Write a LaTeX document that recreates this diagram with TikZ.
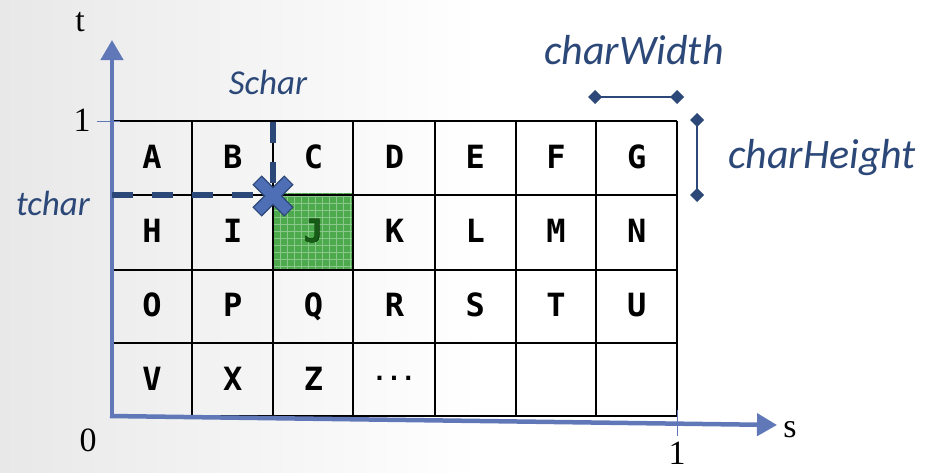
\documentclass[tikz,border=0pt]{standalone}
\usepackage{fontspec}
\setmainfont{Liberation Serif}
\newfontfamily\monof{DejaVu Sans Mono}
\newfontfamily\calfont{Carlito}
\usetikzlibrary{arrows.meta}
\definecolor{axisblue}{RGB}{96,120,184}
\definecolor{darkblue}{RGB}{44,72,120}
\definecolor{xblue}{RGB}{78,110,182}
\definecolor{cellgreen}{RGB}{76,170,76}
\definecolor{jgreen}{RGB}{22,92,22}
\begin{document}
\begin{tikzpicture}[x=1pt,y=-1pt,
 gridline/.style={line width=2.6pt, black},
 axisline/.style={line width=4.5pt, axisblue, -{Triangle[length=20pt,width=22pt]}},
 letter/.style={font=\monof\bfseries\fontsize{32}{32}\selectfont, anchor=base, inner sep=0pt},
 serifnum/.style={font=\fontsize{34}{34}\selectfont, inner sep=0pt},
 biglabel/.style={font=\calfont\itshape\fontsize{42}{42}\selectfont, text=darkblue, inner sep=0pt},
 smalllabel/.style={font=\calfont\itshape\fontsize{35}{35}\selectfont, text=darkblue, inner sep=0pt},
 dimline/.style={line width=2.6pt, darkblue, {Diamond[length=14pt,width=14pt]}-{Diamond[length=14pt,width=14pt]}},
 guide/.style={line width=5.5pt, darkblue, dash pattern=on 21pt off 19pt},
 tick/.style={line width=1pt, axisblue}
]
\useasboundingbox (0,0) rectangle (932,472);
\fill[white] (0,0) rectangle (932,472);
\shade[left color=black!9, right color=white] (0,0) rectangle (480,472);

% green cell J
\fill[cellgreen] (273,193) rectangle (353,270);
\begin{scope}
\clip (273,193) rectangle (353,270);
\draw[white, opacity=0.35, line width=0.8pt, step=7pt] (266,186) grid (360,277);
\end{scope}

% grid lines
\foreach \y in {121,195,270,343,416} \draw[gridline] (112,\y) -- (677,\y);
\foreach \x in {192,273,353,435,516,596,677} \draw[gridline] (\x,121) -- (\x,416);

% letters
\foreach \t [count=\i from 0] in {A,B,C,D,E,F,G} \node[letter] (r1c\i) at (152+80.8*\i,168.5) {\t};
\foreach \t [count=\i from 0] in {H,I,J,K,L,M,N} \node[letter] (r2c\i) at (152+80.8*\i,242) {\t};
\foreach \t [count=\i from 0] in {O,P,Q,R,S,T,U} \node[letter] (r3c\i) at (152+80.8*\i,316) {\t};
\foreach \t [count=\i from 0] in {V,X,Z} \node[letter] (r4c\i) at (152+80.8*\i,390) {\t};
\node[letter, font=\monof\bfseries\fontsize{24}{24}\selectfont] (dots) at (394,380) {...};
\node[letter, text=jgreen] at (313,242) {J};

% axes
\coordinate (origin) at (112,418);
\coordinate (ttip) at (112,40);
\coordinate (sorigin) at (110,416);
\coordinate (stip) at (777,425);
\draw[axisline] (origin) -- (ttip);
\draw[axisline] (sorigin) -- (stip);
\coordinate (t1a) at (97,121); \coordinate (t1b) at (120,121);
\draw[tick] (t1a) -- (t1b);
\coordinate (s1a) at (677,410); \coordinate (s1b) at (677,436);
\draw[tick] (s1a) -- (s1b);

% axis labels
\node[serifnum] (tlab) at (80,22) {t};
\node[serifnum] (one1) at (82,120) {1};
\node[serifnum] (zero) at (88,440) {0};
\node[serifnum] (one2) at (677,453) {1};
\node[serifnum] (slab) at (790,430) {s};

% guides
\coordinate (gh1) at (112,195); \coordinate (gh2) at (262,195);
\coordinate (gv1) at (273,122); \coordinate (gv2) at (273,188);
\draw[guide] (gh1) -- (gh2);
\draw[guide] (gv1) -- (gv2);

% X marker
\begin{scope}[shift={(273,196)}, rotate=45]
\filldraw[fill=xblue, draw=darkblue, line width=1.2pt]
 (6,22) -- (6,6) -- (22,6) -- (22,-6) -- (6,-6) -- (6,-22) -- (-6,-22) -- (-6,-6) -- (-22,-6) -- (-22,6) -- (-6,6) -- (-6,22) -- cycle;
\end{scope}

\node[smalllabel] (schar) at (268,82) {Schar};
\node[smalllabel] (tchar) at (53,203) {tchar};

% dimension markers
\coordinate (w1) at (588,97); \coordinate (w2) at (684,97);
\draw[dimline] (w1) -- (w2);
\coordinate (h1) at (697,113); \coordinate (h2) at (697,202);
\draw[dimline] (h1) -- (h2);
\node[biglabel] (cw) at (634,50) {charWidth};
\node[biglabel] (ch) at (822,158) {charHeight};
\end{tikzpicture}
\end{document}
